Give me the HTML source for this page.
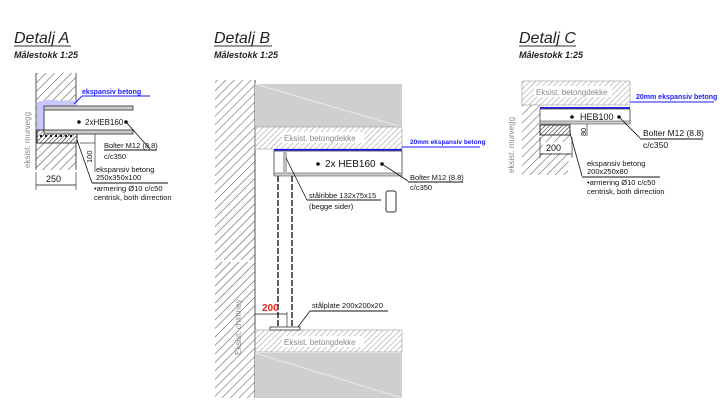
<!DOCTYPE html>
<html><head><meta charset="utf-8"><style>
html,body{margin:0;padding:0;background:#fff;}
svg{display:block;}
text{font-family:"Liberation Sans",sans-serif;}
.t{font-size:16px;font-style:italic;fill:#222;}
.s{font-size:9px;font-weight:bold;fill:#222;font-style:italic;}
.l{font-size:7.5px;fill:#111;}
.b{font-size:7px;fill:#1a1aff;font-weight:bold;}
.g{font-size:8px;fill:#888;}
</style></head><body>
<svg width="724" height="404" viewBox="0 0 724 404" xmlns="http://www.w3.org/2000/svg">
<defs>
<pattern id="h" width="6" height="6" patternUnits="userSpaceOnUse" patternTransform="rotate(45)"><line x1="0" y1="0" x2="0" y2="6" stroke="#555" stroke-width="1.1"/></pattern>
<pattern id="h2" width="4" height="4" patternUnits="userSpaceOnUse" patternTransform="rotate(45)"><line x1="0" y1="0" x2="0" y2="4" stroke="#888" stroke-width="0.9"/></pattern>
<pattern id="hd" width="3" height="3" patternUnits="userSpaceOnUse" patternTransform="rotate(45)"><line x1="0" y1="0" x2="0" y2="3" stroke="#333" stroke-width="1"/></pattern>
</defs>
<rect width="724" height="404" fill="#fff"/>

<text x="14" y="43" class="t">Detalj  A</text><line x1="14" y1="46" x2="71" y2="46" stroke="#333"/>
<text x="14" y="58" class="s">Målestokk  1:25</text>
<text x="214" y="43" class="t">Detalj  B</text><line x1="214" y1="46" x2="272" y2="46" stroke="#333"/>
<text x="214" y="58" class="s">Målestokk  1:25</text>
<text x="519" y="43" class="t">Detalj  C</text><line x1="519" y1="46" x2="576" y2="46" stroke="#333"/>
<text x="519" y="58" class="s">Målestokk  1:25</text>

<!-- ===== Detail A ===== -->
<rect x="36" y="73" width="40" height="97" fill="url(#h)"/>
<line x1="36" y1="73" x2="36" y2="170" stroke="#555"/>
<line x1="76" y1="73" x2="76" y2="103" stroke="#555"/>
<line x1="76" y1="143" x2="76" y2="170" stroke="#555"/>
<rect x="37" y="102" width="40" height="30" fill="#fff"/>
<path d="M37 102 Q50 98 60 101 Q70 99 77 102 L77 106 L44 106 L44 130 L37 130Z" fill="#c8c8ff"/>
<rect x="37" y="130" width="40" height="13" fill="url(#hd)" stroke="#333"/>
<line x1="40" y1="136" x2="74" y2="136" stroke="#111" stroke-dasharray="2 3" stroke-width="2"/>
<rect x="44" y="106" width="89" height="4" fill="#ccc" stroke="#444" stroke-width="0.9"/>
<rect x="44" y="130" width="89" height="4" fill="#ccc" stroke="#444" stroke-width="0.9"/>
<line x1="44" y1="110" x2="44" y2="130" stroke="#444"/>
<text x="82" y="94" class="b">ekspansiv betong</text><line x1="82" y1="96" x2="150" y2="96" stroke="#1a1aff"/>
<line x1="82" y1="96" x2="74" y2="104" stroke="#1a1aff"/>
<circle cx="79" cy="122" r="1.8" fill="#111"/><circle cx="126" cy="122" r="1.8" fill="#111"/>
<text x="85" y="125" class="l" style="font-size:8px">2xHEB160</text>
<line x1="126" y1="122" x2="150" y2="149" stroke="#111" stroke-width="0.8"/>
<text x="104" y="148" class="l">Bolter M12 (8.8)</text><line x1="104" y1="150" x2="157" y2="150" stroke="#111"/>
<text x="104" y="159" class="l">c/c350</text>
<line x1="95" y1="134" x2="95" y2="172" stroke="#111" stroke-width="0.6"/>
<line x1="80" y1="143" x2="95" y2="143" stroke="#111" stroke-width="0.6"/>
<text x="0" y="0" class="l" transform="translate(92,163) rotate(-90)">100</text>
<line x1="77" y1="140" x2="92" y2="183" stroke="#111" stroke-width="0.8"/>
<text x="96" y="172" class="l">ekspansiv betong</text>
<text x="96" y="180" class="l">250x350x100</text>
<line x1="92" y1="183" x2="168" y2="183" stroke="#111"/>
<text x="94" y="191" class="l">•armering Ø10 c/c50</text>
<text x="94" y="200" class="l">centrisk, both dirrection</text>
<line x1="36" y1="172" x2="36" y2="190" stroke="#111" stroke-width="0.6"/>
<line x1="76" y1="172" x2="76" y2="190" stroke="#111" stroke-width="0.6"/>
<line x1="36" y1="185" x2="76" y2="185" stroke="#111" stroke-width="0.8"/>
<text x="46" y="182" class="l" style="font-size:9px">250</text>
<text x="0" y="0" class="g" transform="translate(30,168) rotate(-90)">eksist. murvegg</text>

<!-- ===== Detail B ===== -->
<rect x="215" y="80" width="40" height="180" fill="url(#h)"/>
<rect x="215" y="262" width="40" height="136" fill="url(#h)"/>
<line x1="255" y1="80" x2="255" y2="398" stroke="#555"/>
<rect x="255" y="84" width="147" height="43" fill="#cfcfcf"/>
<line x1="255" y1="84" x2="402" y2="127" stroke="#eee" stroke-width="0.8"/>
<rect x="255" y="127" width="147" height="22" fill="url(#h2)" stroke="#999" stroke-width="0.6"/>
<rect x="282" y="132" width="82" height="11" fill="#fff"/>
<text x="284" y="141" class="g">Eksist. betongdekke</text>
<line x1="274" y1="150" x2="402" y2="150" stroke="#1a1aff" stroke-width="2"/>
<rect x="274" y="151" width="128" height="24" fill="#fff" stroke="#555" stroke-width="0.9"/>
<rect x="274" y="173" width="128" height="3" fill="#ccc" stroke="#555" stroke-width="0.6"/>
<rect x="283" y="152" width="4" height="22" fill="#bbb"/>
<circle cx="318" cy="164" r="1.8" fill="#111"/><circle cx="382" cy="164" r="1.8" fill="#111"/>
<text x="325" y="167" style="font-size:10px;fill:#111">2x HEB160</text>
<line x1="382" y1="164" x2="408" y2="181" stroke="#111" stroke-width="0.8"/>
<text x="410" y="180" class="l">Bolter M12 (8.8)</text><line x1="408" y1="182" x2="463" y2="182" stroke="#111"/>
<text x="410" y="190" class="l">c/c350</text>
<text x="410" y="144" class="b" style="font-size:6.5px">20mm ekspansiv betong</text><line x1="402" y1="147" x2="480" y2="147" stroke="#1a1aff"/>
<line x1="278" y1="176" x2="278" y2="328" stroke="#333" stroke-width="1.6" stroke-dasharray="6 2"/>
<line x1="292" y1="176" x2="292" y2="328" stroke="#333" stroke-width="1.6" stroke-dasharray="6 2"/>
<line x1="286" y1="158" x2="307" y2="200" stroke="#111" stroke-width="0.8"/>
<text x="309" y="198" class="l">stålribbe 132x75x15</text><line x1="307" y1="200" x2="381" y2="200" stroke="#111"/>
<text x="309" y="209" class="l">(begge sider)</text>
<rect x="386" y="191" width="10" height="21" rx="2" fill="none" stroke="#333"/>
<rect x="255" y="330" width="147" height="22" fill="url(#h2)" stroke="#999" stroke-width="0.6"/>
<rect x="282" y="336" width="82" height="11" fill="#fff"/>
<text x="284" y="345" class="g">Eksist. betongdekke</text>
<rect x="255" y="353" width="147" height="45" fill="#cfcfcf"/>
<line x1="255" y1="353" x2="402" y2="398" stroke="#eee" stroke-width="0.8"/>
<rect x="270" y="327" width="30" height="3" fill="#fff" stroke="#333" stroke-width="0.8"/>
<line x1="255" y1="314" x2="287" y2="314" stroke="#111" stroke-width="0.8"/>
<line x1="287" y1="312" x2="287" y2="327" stroke="#111" stroke-width="0.6"/>
<text x="262" y="311" style="font-size:10px;fill:#ee2222;font-weight:bold">200</text>
<line x1="298" y1="327" x2="310" y2="311" stroke="#111" stroke-width="0.8"/>
<text x="312" y="308" class="l">stålplate 200x200x20</text><line x1="310" y1="311" x2="388" y2="311" stroke="#111"/>
<text x="0" y="0" class="g" transform="translate(241,355) rotate(-90)">Eksist. chimney</text>

<!-- ===== Detail C ===== -->
<rect x="522" y="81" width="108" height="24" fill="url(#h2)" stroke="#999" stroke-width="0.6"/>
<rect x="534" y="86" width="78" height="11" fill="#fff"/>
<text x="536" y="95" class="g">Eksist. betongdekke</text>
<path d="M522 105 L540 105 L540 124 L570 124 L570 136 L568 175 L522 175Z" fill="url(#h)"/>
<line x1="540" y1="108" x2="630" y2="108" stroke="#1a1aff" stroke-width="2"/>
<rect x="540" y="109" width="90" height="14" fill="#fff" stroke="#555" stroke-width="0.9"/>
<rect x="540" y="121" width="90" height="3" fill="#ccc" stroke="#555" stroke-width="0.6"/>
<rect x="540" y="125" width="30" height="10" fill="url(#hd)" stroke="#333"/>
<circle cx="572" cy="117" r="1.8" fill="#111"/><circle cx="619" cy="117" r="1.8" fill="#111"/>
<text x="580" y="120" style="font-size:9px;fill:#111">HEB100</text>
<line x1="619" y1="117" x2="640" y2="138" stroke="#111" stroke-width="0.8"/>
<text x="643" y="136" class="l" style="font-size:8.5px">Bolter M12 (8.8)</text><line x1="640" y1="139" x2="703" y2="139" stroke="#111"/>
<text x="643" y="148" class="l" style="font-size:8.5px">c/c350</text>
<text x="636" y="99" class="b">20mm ekspansiv betong</text><line x1="630" y1="102" x2="714" y2="102" stroke="#1a1aff"/>
<line x1="587" y1="124" x2="587" y2="136" stroke="#111" stroke-width="0.6"/>
<text x="0" y="0" class="l" transform="translate(586,136) rotate(-90)">80</text>
<line x1="540" y1="137" x2="540" y2="158" stroke="#111" stroke-width="0.6"/>
<line x1="572" y1="137" x2="572" y2="158" stroke="#111" stroke-width="0.6"/>
<line x1="540" y1="154" x2="572" y2="154" stroke="#111" stroke-width="0.8"/>
<rect x="543" y="142" width="26" height="11" fill="#fff"/>
<text x="546" y="151" class="l" style="font-size:9px">200</text>
<line x1="570" y1="133" x2="582" y2="176" stroke="#111" stroke-width="0.8"/>
<text x="587" y="166" class="l">ekspansiv betong</text>
<text x="587" y="174" class="l">200x250x80</text>
<line x1="582" y1="177" x2="660" y2="177" stroke="#111"/>
<text x="587" y="185" class="l">•armering Ø10 c/c50</text>
<text x="587" y="194" class="l">centrisk, both dirrection</text>
<text x="0" y="0" class="g" transform="translate(514,173) rotate(-90)">eksist. murvegg</text>
</svg>
</body></html>
